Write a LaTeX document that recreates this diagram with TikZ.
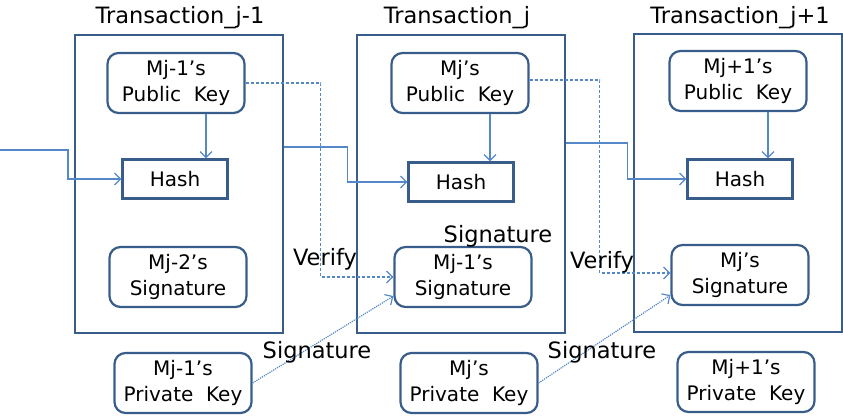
\documentclass[tikz,border=0pt]{standalone}
\usepackage{fontspec}
\setmainfont{DejaVu Sans}
\usetikzlibrary{calc}
\usetikzlibrary{arrows.meta}

\definecolor{boxblue}{RGB}{56,93,138}
\definecolor{lineblue}{RGB}{84,136,200}

\tikzset{
	trans/.style={draw=boxblue, line width=2.4pt, rectangle, minimum width=208pt, minimum height=298pt},
	key/.style={draw=boxblue, line width=2.2pt, rectangle, rounded corners=11pt, minimum width=137pt, minimum height=60pt, align=center, font=\fontsize{20}{25.5}\selectfont},
	hashbox/.style={draw=boxblue, line width=2.2pt, rectangle, minimum width=105pt, minimum height=39pt, font=\fontsize{20}{25}\selectfont},
	lbl/.style={font=\fontsize{22.5}{26}\selectfont},
	link/.style={draw=lineblue, line width=1.2pt, ->, >={Straight Barb[length=6pt,width=12pt]}},
}

\begin{document}
\begin{tikzpicture}[x=1pt, y=-1pt]
	\useasboundingbox (0,0) rectangle (843,417);
	% transactions
	\node[trans] (t1) at (179,184) {};
	\node[trans] (t2) at (461,184) {};
	\node[trans] (t3) at (738,183) {};
	\node[lbl] (n1) at (180,18) {Transaction\_j-1};
	\node[lbl] (n2) at (457,18) {Transaction\_j};
	\node[lbl] (n3) at (740,18) {Transaction\_j+1};
	% public keys, hashes, signatures
	\node[key] (pk1) at (176,83) {Mj-1's\\Public~ Key};
	\node[key] (pk2) at (460,83) {Mj's\\Public~ Key};
	\node[key] (pk3) at (738,81) {Mj+1's\\Public~ Key};
	\node[hashbox] (h1) at (175,179) {Hash};
	\node[hashbox] (h2) at (461,182) {Hash};
	\node[hashbox] (h3) at (740,179) {Hash};
	\node[key] (s1) at (178,277) {Mj-2's\\Signature};
	\node[key] (s2) at (463,277) {Mj-1's\\Signature};
	\node[key] (s3) at (740,275) {Mj's\\Signature};
	% private keys
	\node[key] (pr1) at (183,383) {Mj-1's\\Private~ Key};
	\node[key] (pr2) at (469,383) {Mj's\\Private~ Key};
	\node[key] (pr3) at (746,382) {Mj+1's\\Private~ Key};
	% hash chain
	\coordinate (in) at (0,150);
	\foreach \i in {1,2,3}{
		\draw[link] ([xshift=30pt]pk\i.south) -- ([xshift=30pt]pk\i.south |- h\i.north);
	}
	\draw[link] (in) -- ++(68,0) |- (h1.west);
	\draw[link] ([yshift=37pt]t1.east) -- ++(63,0) |- (h2.west);
	\draw[link] ([yshift=41pt]t2.east) -- ++(61,0) |- (h3.west);
	% verify and sign
	\draw[link, densely dashed] (pk1.east) -- ++(75,0) |- (s2.west);
	\draw[link, densely dashed] ([yshift=3pt]pk2.east) -- ++(70,0) |- ([yshift=2pt]s3.west);
	\draw[link, densely dotted] (pr1.east) -- ([yshift=12pt]s2.south west);
	\draw[link, densely dotted] (pr2.east) -- ([yshift=11pt]s3.south west);
	\node[lbl] (v1) at (325,259) {Verify};
	\node[lbl] (v2) at (602,262) {Verify};
	\node[lbl] (g1) at (317,352) {Signature};
	\node[lbl] (g2) at (602,352) {Signature};
	\node[lbl] (g3) at (498,236) {Signature};
\end{tikzpicture}
\end{document}
